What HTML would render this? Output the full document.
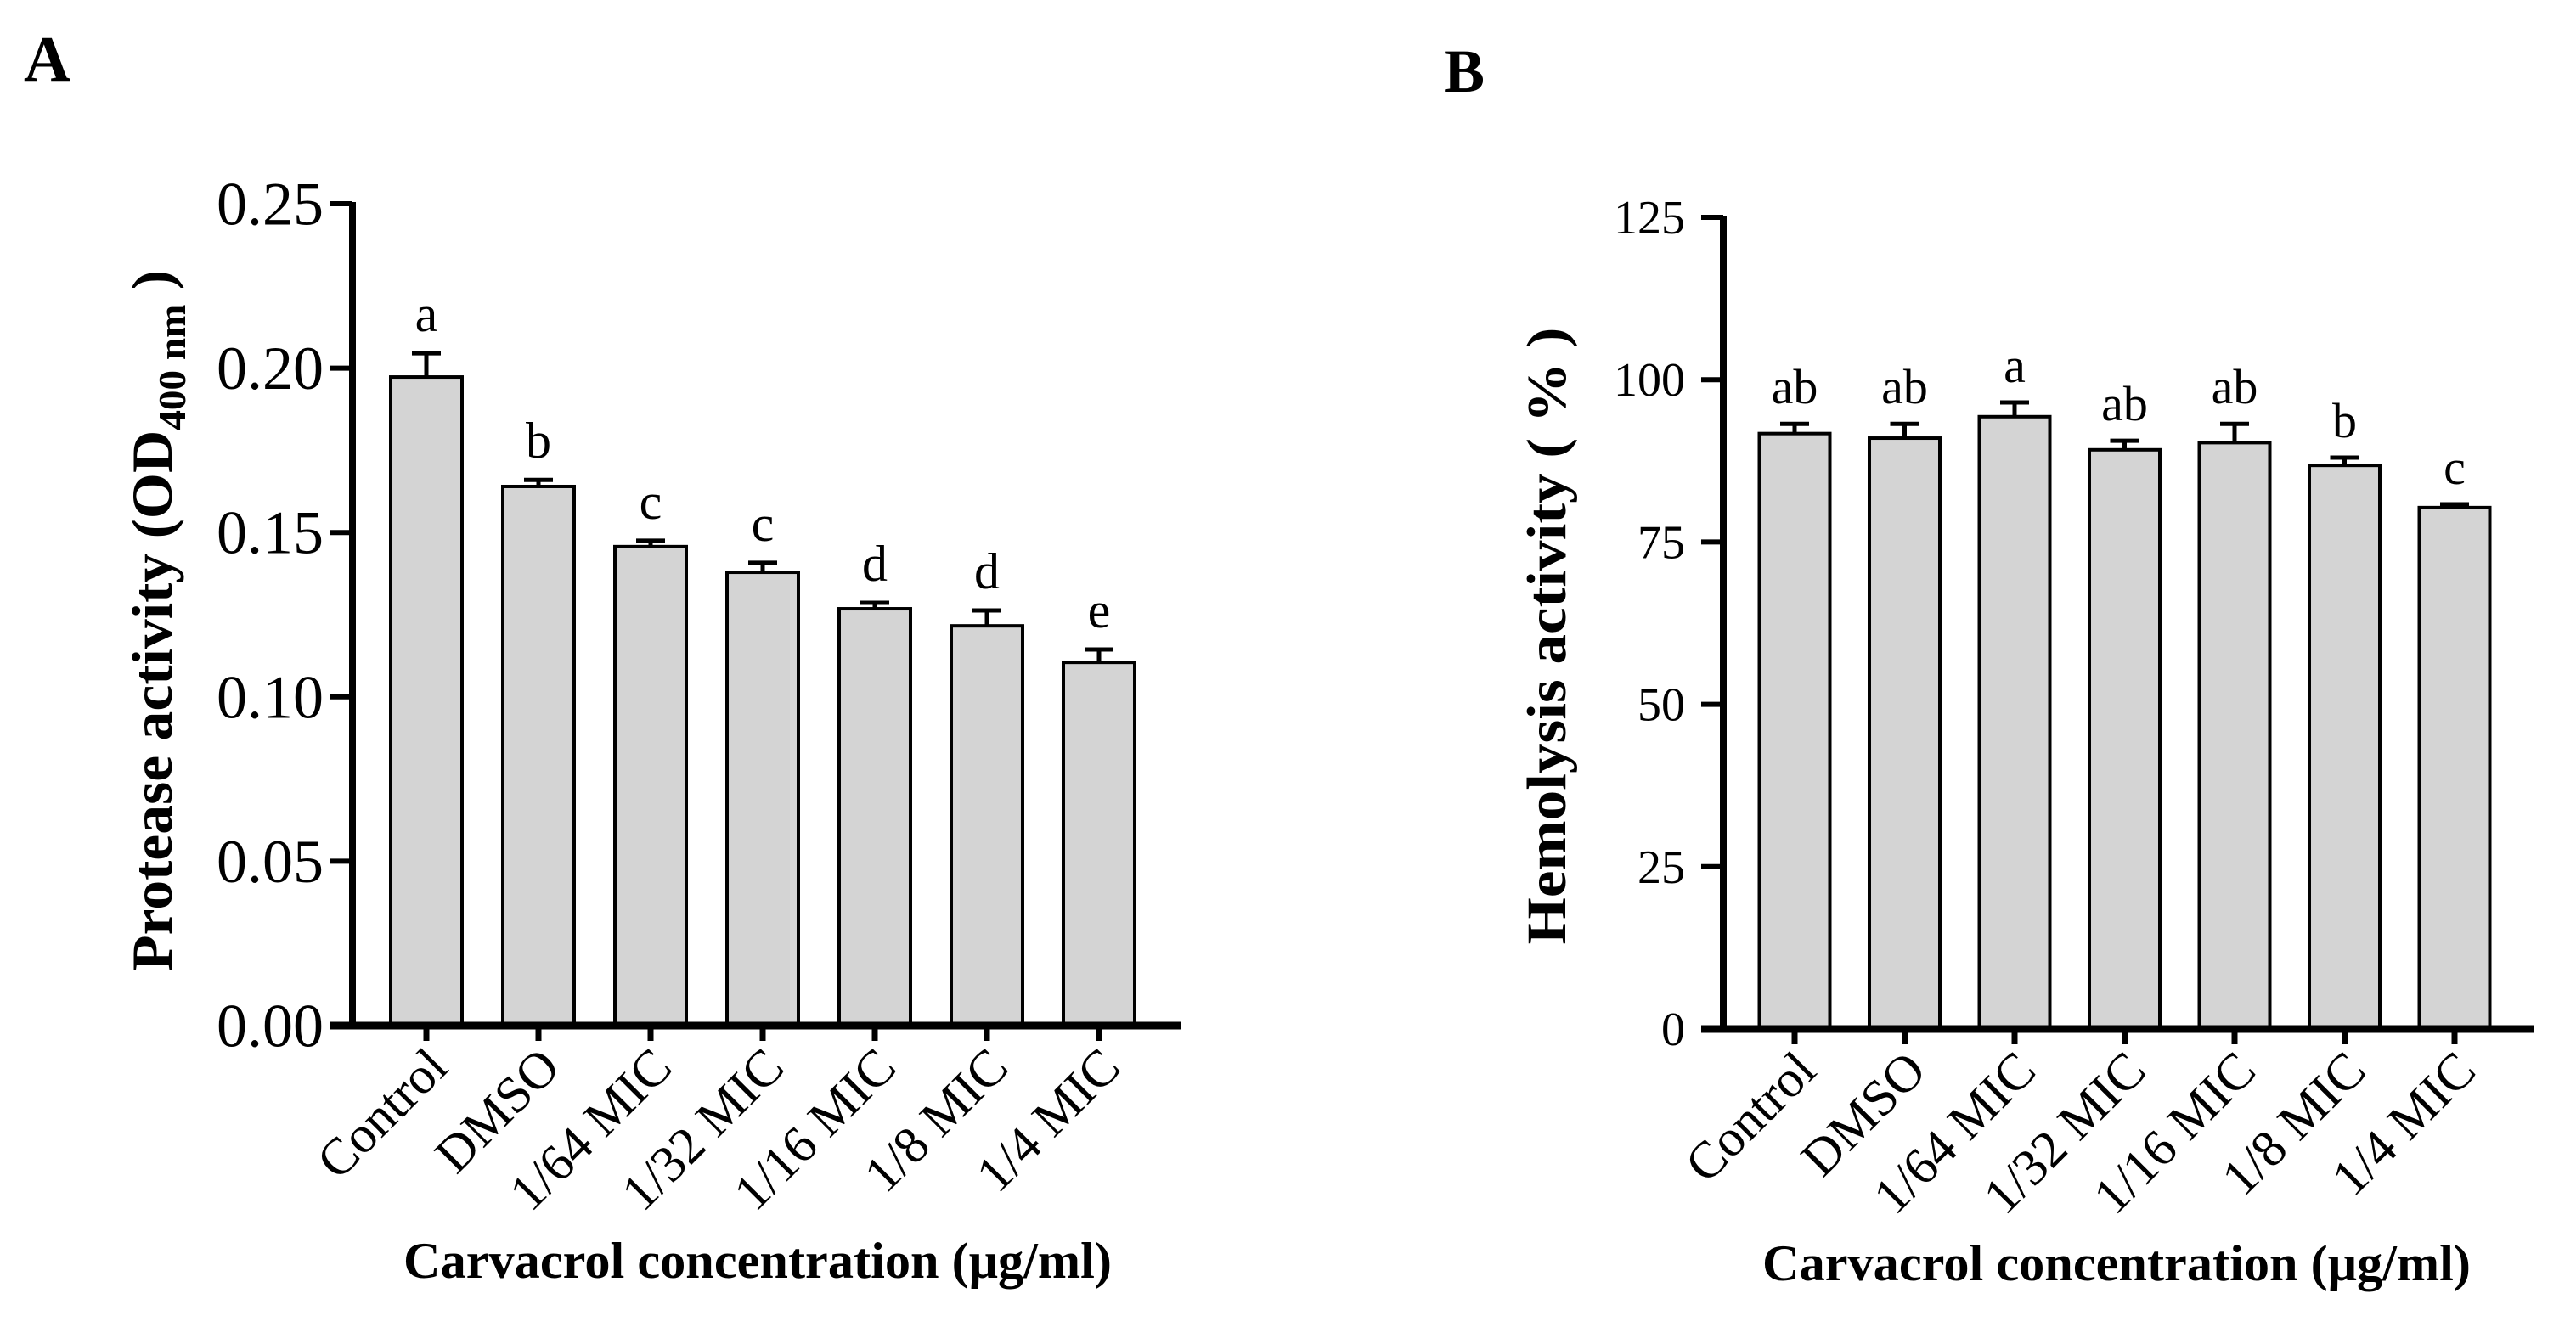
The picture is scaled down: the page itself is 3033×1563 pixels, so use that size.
<!DOCTYPE html>
<html><head><meta charset="utf-8"><style>
html,body{margin:0;padding:0;background:#fff;}
svg{display:block;font-family:"Liberation Serif",serif;}
</style></head><body>
<svg id="fig" width="3033" height="1563" viewBox="0 0 3033 1563">
<rect width="3033" height="1563" fill="#fff"/>
<text x="28" y="95" font-size="76" font-weight="bold">A</text>
<text x="1700" y="108" font-size="72" font-weight="bold">B</text>
<g id="chartA"></g>
<g id="chartB"></g>
</svg>
<script>
const categories = ["Control","DMSO","1/64 MIC","1/32 MIC","1/16 MIC","1/8 MIC","1/4 MIC"];
const proteaseValues = [0.1973,0.164,0.1457,0.1379,0.1268,0.1216,0.1105];
const proteaseErrors = [0.0072,0.0020,0.0018,0.0029,0.0018,0.0047,0.0039];
const proteaseLetters = ["a","b","c","c","d","d","e"];
const proteaseTicks = ["0.00","0.05","0.10","0.15","0.20","0.25"];
const hemolysisValues = [91.7,91.0,94.3,89.2,90.3,86.8,80.3];
const hemolysisErrors = [1.5,2.2,2.2,1.4,2.9,1.2,0.5];
const hemolysisLetters = ["ab","ab","a","ab","ab","b","c"];
const hemolysisTicks = ["0","25","50","75","100","125"];

const NS="http://www.w3.org/2000/svg";
function mk(parent,tag,attrs,text){const e=document.createElementNS(NS,tag);for(const k in attrs)e.setAttribute(k,attrs[k]);if(text!==undefined)e.textContent=text;parent.appendChild(e);return e;}

function drawChart(g,cfg){
  const y=v=>cfg.y0-(v-cfg.vmin)/(cfg.vmax-cfg.vmin)*(cfg.y0-cfg.y1);
  const x=i=>cfg.cx0+i*cfg.step;
  cfg.values.forEach((v,i)=>{
    const e=cfg.errors[i];
    const eb=mk(g,"path",{d:`M${x(i)} ${y(v)} V${y(v+e)} M${x(i)-17} ${y(v+e)} H${x(i)+17}`,stroke:"#000","stroke-width":5,fill:"none"});
    
    
    const r=mk(g,"rect",{x:x(i)-cfg.bw/2,y:y(v),width:cfg.bw,height:cfg.y0-y(v),fill:"#d4d4d4",stroke:"#000","stroke-width":4});
    
    
    const t=mk(g,"text",{x:x(i),y:y(v+e)-cfg.lgap,"font-size":cfg.lsize,"text-anchor":"middle"},cfg.letters[i]);
    
    
    const tk=mk(g,"line",{x1:x(i),x2:x(i),y1:cfg.y0,y2:cfg.y0+18,stroke:"#000","stroke-width":7});
    
    
    const lb=mk(g,"text",{x:0,y:0,"font-size":61,"text-anchor":"end",transform:`translate(${x(i)+28},${cfg.y0+52}) rotate(-45)`},categories[i]);
    
    
  });
  const ya=mk(g,"line",{x1:cfg.ax,x2:cfg.ax,y1:cfg.y1-2,y2:cfg.y0+4,stroke:"#000","stroke-width":8});
  
  
  const xa=mk(g,"line",{x1:cfg.ax-26,x2:cfg.axEnd,y1:cfg.y0,y2:cfg.y0,stroke:"#000","stroke-width":9});
  
  
  cfg.ticks.forEach((lab,k)=>{
    const v=cfg.vmin+k*(cfg.vmax-cfg.vmin)/(cfg.ticks.length-1);
    const tl=mk(g,"line",{x1:cfg.ax-26,x2:cfg.ax,y1:y(v),y2:y(v),stroke:"#000","stroke-width":6});
    
    
    const tt=mk(g,"text",{x:cfg.tickEnd,y:y(v)+cfg.tsize*0.34,"font-size":cfg.tsize,"text-anchor":"end"},lab);
    
    
  });
}

drawChart(document.getElementById("chartA"),{key:"a",values:proteaseValues,errors:proteaseErrors,letters:proteaseLetters,ticks:proteaseTicks,
  vmin:0,vmax:0.25,y0:1208,y1:240,ax:415,axEnd:1390,cx0:502,step:132,bw:84,tickEnd:381,tsize:72,lsize:60,lgap:26});
drawChart(document.getElementById("chartB"),{key:"b",values:hemolysisValues,errors:hemolysisErrors,letters:hemolysisLetters,ticks:hemolysisTicks,
  vmin:0,vmax:125,y0:1212,y1:256,ax:2029,axEnd:2983,cx0:2113,step:129.5,bw:83,tickEnd:1984,tsize:56,lsize:58,lgap:24});
</script>
<script>
(function(){
const s=document.getElementById("fig");
function t(attrs,txt,name){const e=document.createElementNS("http://www.w3.org/2000/svg","text");for(const k in attrs)e.setAttribute(k,attrs[k]);e.textContent=txt;s.appendChild(e);


return e;}
const ya=document.createElementNS("http://www.w3.org/2000/svg","text");
ya.setAttribute("transform","translate(202,731) rotate(-90)");
ya.setAttribute("text-anchor","middle");ya.setAttribute("font-size","68");ya.setAttribute("font-weight","bold");
ya.setAttribute("textLength","826");ya.setAttribute("lengthAdjust","spacingAndGlyphs");
ya.innerHTML='Protease activity (OD<tspan font-size="46" dy="16">400 nm</tspan><tspan dy="-16"> )</tspan>';


s.appendChild(ya);
t({transform:"translate(1843,749) rotate(-90)","text-anchor":"middle","font-size":66,"font-weight":"bold",textLength:727,lengthAdjust:"spacingAndGlyphs"},"Hemolysis activity ( % )","y-axis-title-b");
t({x:892,y:1505,"text-anchor":"middle","font-size":60,"font-weight":"bold",textLength:834,lengthAdjust:"spacingAndGlyphs"},"Carvacrol concentration (μg/ml)","x-axis-title-a");
t({x:2492,y:1508,"text-anchor":"middle","font-size":60,"font-weight":"bold",textLength:834,lengthAdjust:"spacingAndGlyphs"},"Carvacrol concentration (μg/ml)","x-axis-title-b");
})();
</script>
</body></html>
